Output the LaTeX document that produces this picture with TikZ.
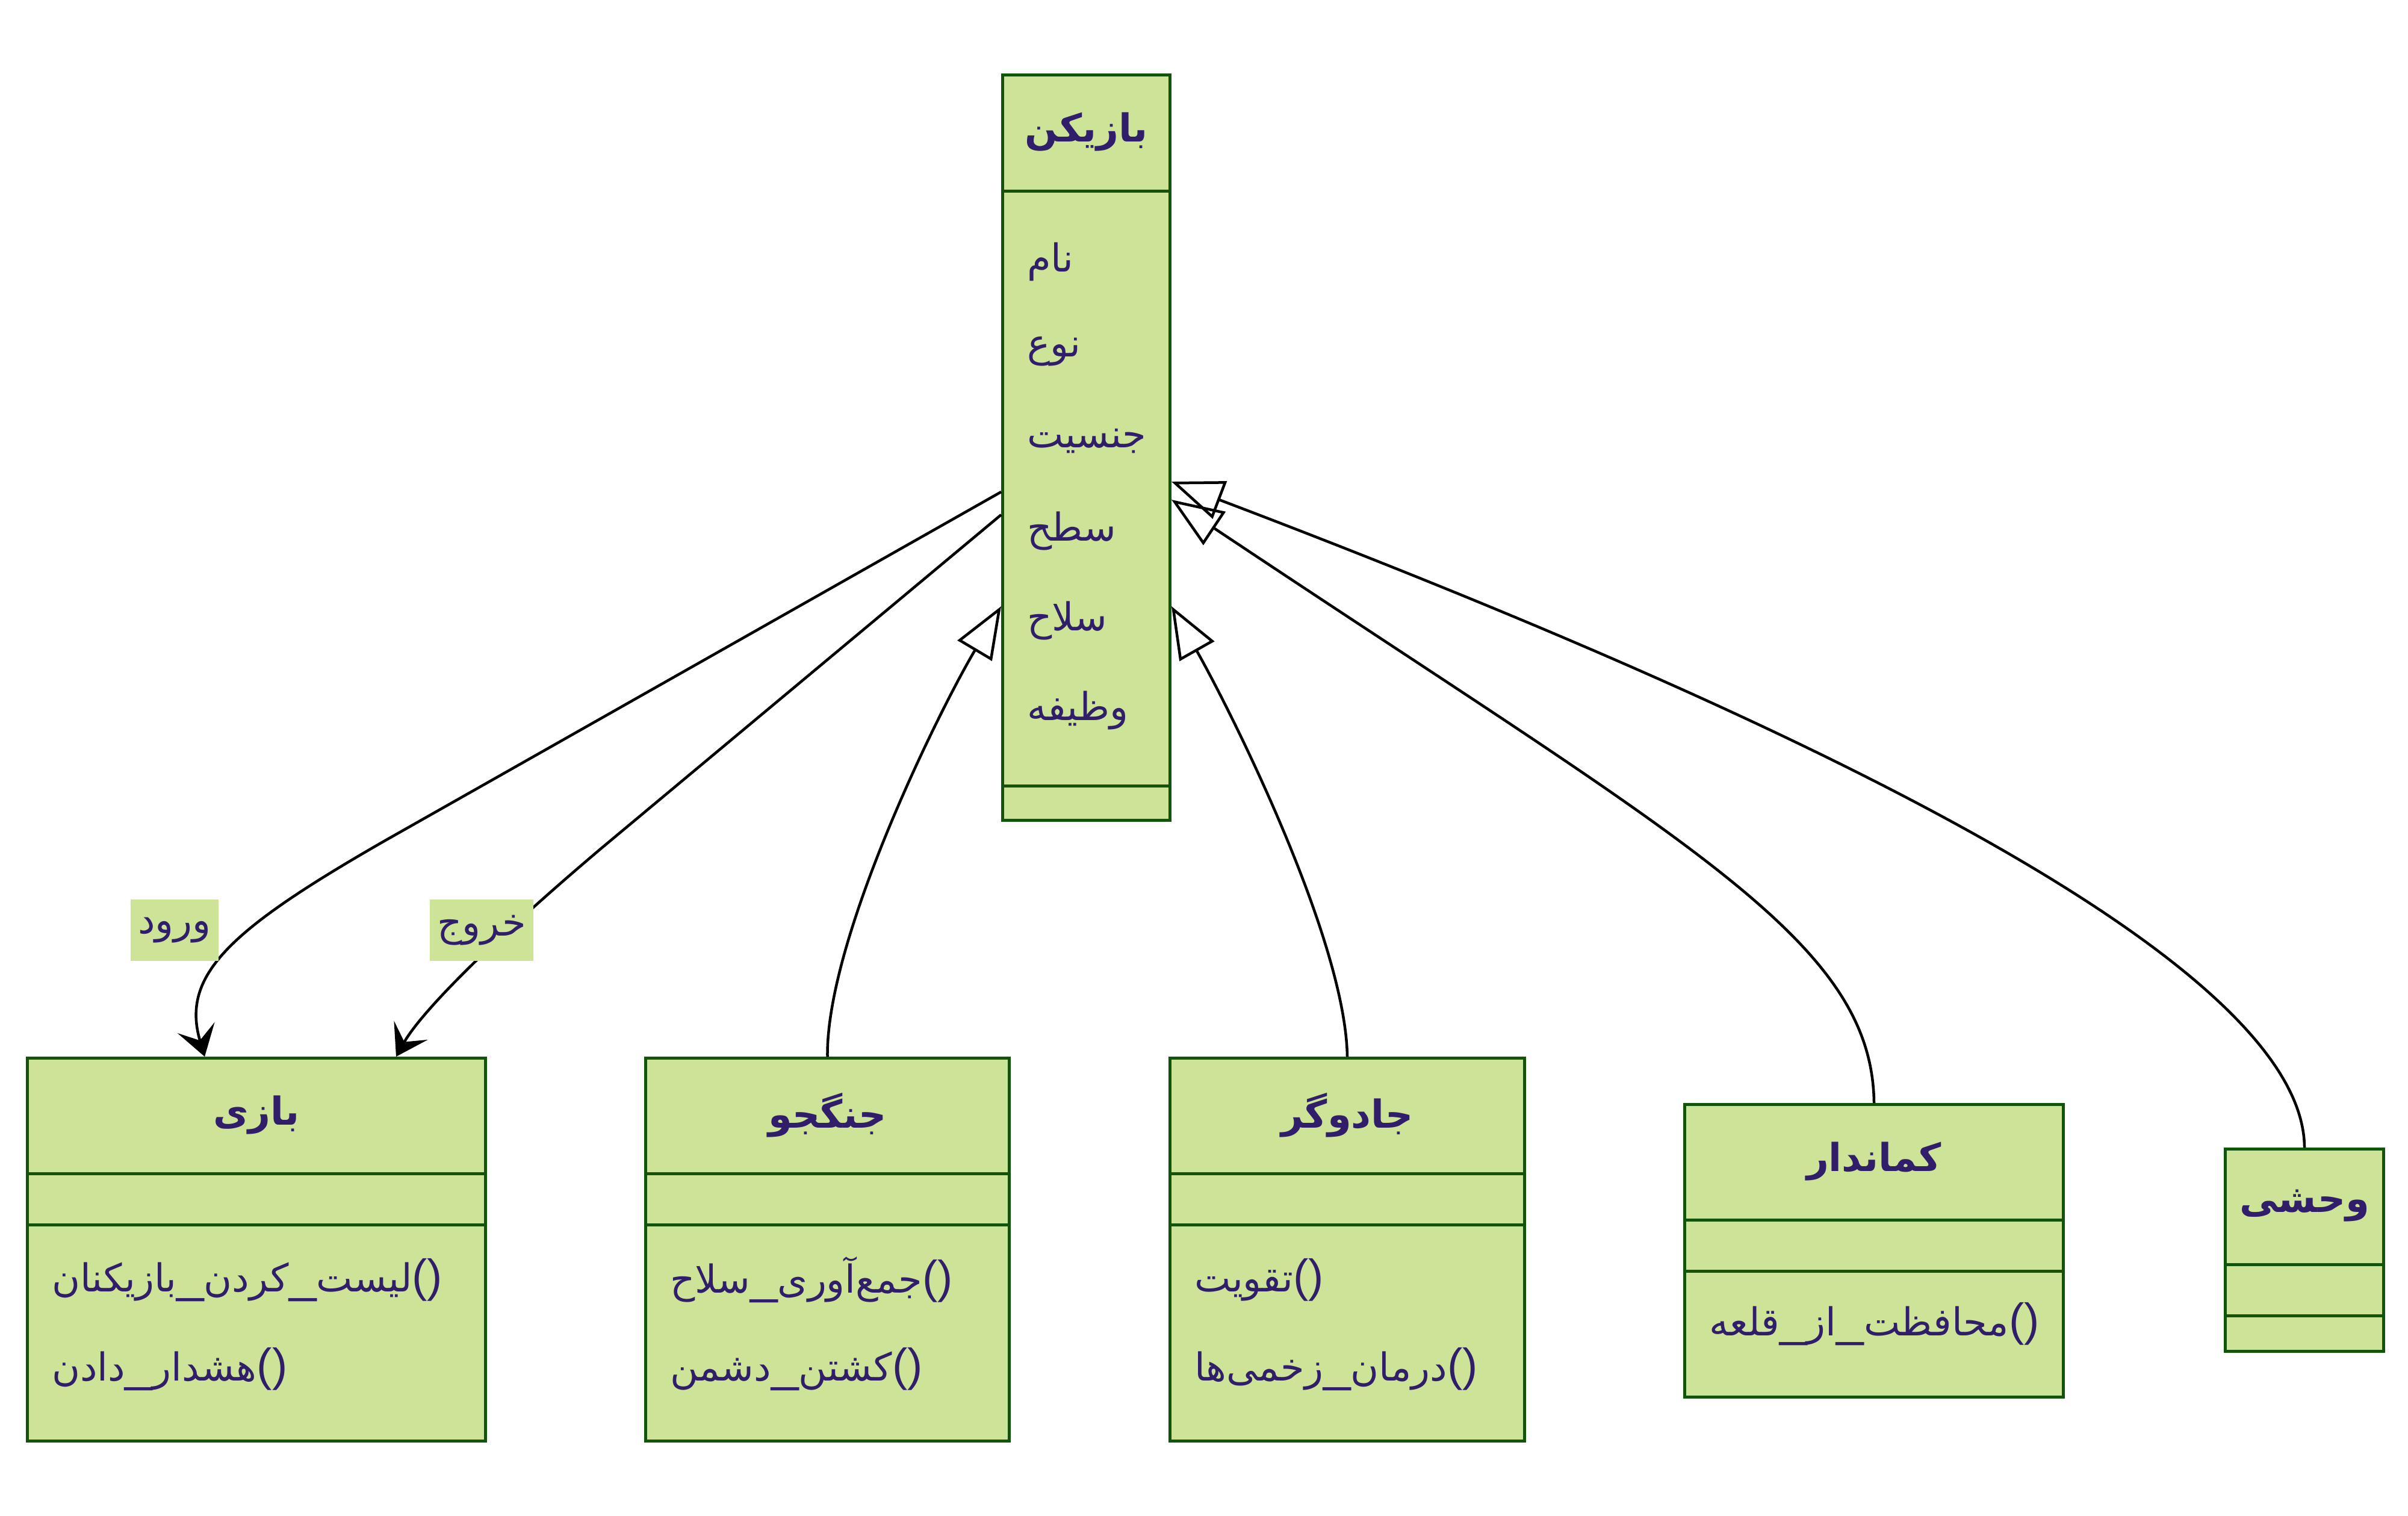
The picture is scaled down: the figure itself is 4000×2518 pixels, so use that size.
\documentclass[tikz,border=0pt]{standalone}
\usepackage{fontspec}
\usetikzlibrary{arrows.meta,calc}
\TeXXeTstate=1
\newfontfamily\arabicfont[Script=Arabic]{DejaVu Sans}
\newfontfamily\plainfont{Liberation Sans}
\definecolor{clsfill}{HTML}{CDE498}
\definecolor{clsline}{HTML}{13540C}
\definecolor{clstext}{HTML}{311E6A}
\newcommand{\fa}[1]{\beginR #1\endR}
\newcommand{\pr}{{\plainfont\fontsize{76}{80}\selectfont()}}
\newcommand{\us}{{\plainfont\fontsize{82}{86}\selectfont\_}}
\begin{document}
\begin{tikzpicture}[x=1pt,y=-1pt,
  cls/.style={draw=clsline, fill=clsfill, line width=5pt, inner sep=0pt, anchor=north west},
  sepline/.style={draw=clsline, line width=5pt},
  ttl/.style={font=\arabicfont\bfseries\fontsize{64}{76}\selectfont, text=clstext, inner sep=0pt},
  mem/.style={font=\arabicfont\fontsize{64}{76}\selectfont, text=clstext, inner sep=0pt, anchor=west},
  elabel/.style={font=\arabicfont\fontsize{64}{76}\selectfont, text=clstext, fill=clsfill, inner xsep=12pt, inner ysep=0pt, minimum height=102pt},
  assoc/.style={line width=4.5pt, -{Stealth[length=50pt,width=64pt,inset=22pt]}},
  inh/.style={line width=4.5pt, -{Triangle[open,length=86pt,width=66pt]}}]
\fill[white] (0,0) rectangle (4000,2518);
\useasboundingbox (0,0) rectangle (4000,2518);

% ---- class boxes ----
\node[cls, minimum width=278pt, minimum height=1238pt] (bazikon) at (1663,122) {};
\node[cls, minimum width=761pt, minimum height=636pt] (bazi) at (43,1755) {};
\node[cls, minimum width=604pt, minimum height=636pt] (jangjoo) at (1070,1755) {};
\node[cls, minimum width=589pt, minimum height=636pt] (jadugar) at (1941,1755) {};
\node[cls, minimum width=629pt, minimum height=486pt] (kamandar) at (2796,1832) {};
\node[cls, minimum width=263pt, minimum height=336pt] (wahshi) at (3694,1906) {};

% ---- separators ----
\draw[sepline] ($(bazikon.north west)+(0,195)$) -- ($(bazikon.north east)+(0,195)$);
\draw[sepline] ($(bazikon.north west)+(0,1183)$) -- ($(bazikon.north east)+(0,1183)$);
\foreach \b in {bazi,jangjoo,jadugar,kamandar,wahshi}{
  \draw[sepline] ($(\b.north west)+(0,194)$) -- ($(\b.north east)+(0,194)$);
  \draw[sepline] ($(\b.north west)+(0,279)$) -- ($(\b.north east)+(0,279)$);
}

% ---- titles ----
\node[ttl] (tbazikon) at ($(bazikon.north)+(0,97)$) {\fa{بازیکن}};
\node[ttl] (tbazi) at ($(bazi.north)+(0,97)$) {\fa{بازی}};
\node[ttl] (tjangjoo) at ($(jangjoo.north)+(0,97)$) {\fa{جنگجو}};
\node[ttl] (tjadugar) at ($(jadugar.north)+(0,97)$) {\fa{جادوگر}};
\node[ttl] (tkamandar) at ($(kamandar.north)+(0,97)$) {\fa{کماندار}};
\node[ttl] (twahshi) at ($(wahshi.north)+(0,97)$) {\fa{وحشی}};

% ---- attributes of بازیکن ----
\node[mem] (a1) at ($(bazikon.north west)+(43,313)$) {\fa{نام}};
\node[mem] (a2) at ($(bazikon.north west)+(43,462)$) {\fa{نوع}};
\node[mem] (a3) at ($(bazikon.north west)+(43,611)$) {\fa{جنسیت}};
\node[mem] (a4) at ($(bazikon.north west)+(43,760)$) {\fa{سطح}};
\node[mem] (a5) at ($(bazikon.north west)+(43,909)$) {\fa{سلاح}};
\node[mem] (a6) at ($(bazikon.north west)+(43,1058)$) {\fa{وظیفه}};

% ---- methods ----
\node[mem] (m1) at ($(bazi.north west)+(43,371)$) {\fa{لیست\us کردن\us بازیکنان}\pr};
\node[mem] (m2) at ($(bazi.north west)+(43,519)$) {\fa{هشدار\us دادن}\pr};
\node[mem] (m3) at ($(jangjoo.north west)+(43,371)$) {\fa{جمع‌آوری\us سلاح}\pr};
\node[mem] (m4) at ($(jangjoo.north west)+(43,519)$) {\fa{کشتن\us دشمن}\pr};
\node[mem] (m5) at ($(jadugar.north west)+(43,371)$) {\fa{تقویت}\pr};
\node[mem] (m6) at ($(jadugar.north west)+(43,519)$) {\fa{درمان\us زخمی‌ها}\pr};
\node[mem] (m7) at ($(kamandar.north west)+(43,367)$) {\fa{محافظت\us از\us قلعه}\pr};

% ---- associations ----
\draw[assoc] ($(bazikon.north west)+(0,695)$) -- (640,1396) .. controls (380,1545) and (300,1620) .. ($(bazi.north west)+(297,0)$);
\draw[assoc] ($(bazikon.north west)+(0,733)$) -- (1000,1408) .. controls (820,1560) and (700,1680) .. ($(bazi.north west)+(615,0)$);
\node[elabel] (lwurud) at (290,1545) {\fa{ورود}};
\node[elabel] (lkhuruj) at (800,1545) {\fa{خروج}};

% ---- inheritance ----
\draw[inh] (jangjoo.north) .. controls (1372,1560) and (1560,1180) .. ($(bazikon.north west)+(0,885)$);
\draw[inh] (jadugar.north) .. controls (2235,1560) and (2044,1180) .. ($(bazikon.north east)+(0,885)$);
\draw[inh] (kamandar.north) .. controls (3110,1560) and (2800,1400) .. ($(bazikon.north east)+(0,708)$);
\draw[inh] (wahshi.north) .. controls (3826,1600) and (3000,1200) .. ($(bazikon.north east)+(0,678)$);
\end{tikzpicture}
\end{document}
